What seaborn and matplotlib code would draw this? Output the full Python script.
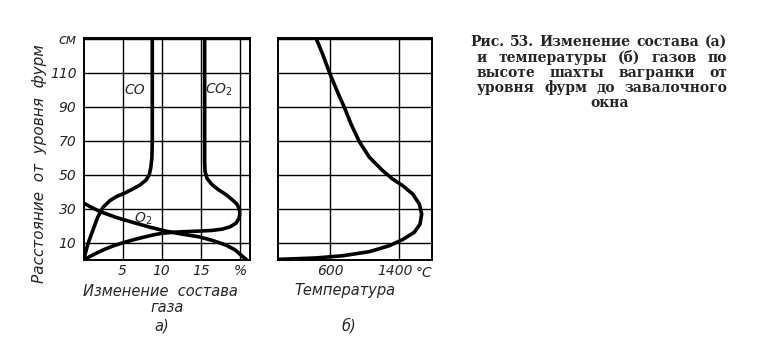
import matplotlib
matplotlib.use("Agg")
import matplotlib.pyplot as plt
import matplotlib.transforms as mtransforms
import seaborn as sns
import pandas as pd

# ---- data ----
co_x = [0, 0.3, 0.6, 1.0, 1.4, 1.8, 2.5, 3.4, 4.3, 5.1, 6.2, 7.2, 8.0, 8.4, 8.6, 8.75, 8.8, 8.8]
co_y = [0, 5, 10, 15, 20, 25, 31, 35, 37.5, 39, 41.5, 44, 47, 50, 54, 60, 70, 130.5]

co2_x = [0, 1.2, 2.5, 3.8, 5.1, 6.4, 7.6, 8.8, 10.0, 11.5, 13.1, 14.8, 16.5, 17.8, 18.8, 19.5, 19.9, 20.0, 19.9, 19.6,
         19.0, 18.2, 17.2, 16.4, 15.8, 15.55, 15.5, 15.5]
co2_y = [0, 3.0, 5.9, 8.3, 10.2, 11.9, 13.3, 14.6, 15.7, 16.3, 16.7, 17.0, 17.4, 18.2, 19.6, 21.6, 24.5, 27.5, 30.5, 33,
         35.5, 38.5, 41.5, 44.5, 48, 52, 58, 130.5]

o2_x = [0, 1.0, 2.1, 4.2, 6.4, 8.5, 10.5, 12.5, 14.8, 16.5, 18.2, 19.3, 19.9, 20.5, 20.9]
o2_y = [33.5, 31, 28.5, 25, 22, 19.3, 17.0, 15.3, 13.6, 11.5, 8.8, 6.2, 3.9, 1.5, 0]

temp_x = [438, 515, 600, 688, 765, 842, 938, 1054, 1208, 1323, 1438, 1554, 1631, 1658, 1638, 1573,
          1438, 1285, 1054, 746, 438, 131, 0]
temp_y = [130.5, 121, 109.4, 98.6, 89.8, 80, 69.6, 60.4, 52.5, 47.6, 43.7, 38.8, 32.9, 27, 21, 16.3,
          12, 8.4, 4.9, 2.5, 1.2, 0.6, 0.4]

y_ticks = [10, 30, 50, 70, 90, 110, 130]
y_labels = ["10", "30", "50", "70", "90", "110", "см"]
x1_ticks = [5, 10, 15, 20]
x1_labels = ["5", "10", "15", "%"]
x2_ticks = [600, 1400]
x2_labels = ["600", "1400"]

caption_lines = [
    "Рис. 53. Изменение состава (а)",
    "и температуры (б) газов по",
    "высоте шахты вагранки от",
    "уровня фурм до завалочного",
]
caption_last = "окна"

# ---- figure ----
sns.set_style("white")
plt.rcParams["font.family"] = ["DejaVu Sans"]
W, H = 769, 343
fig = plt.figure(figsize=(W / 100, H / 100), dpi=100)

def fx(px):
    return px / W

def fy(py):
    return 1 - py / H

ax1 = fig.add_axes([fx(83.5), fy(260), fx(250 - 83.5), (260 - 38) / H])
ax2 = fig.add_axes([fx(278), fy(260), fx(432 - 278), (260 - 38) / H])

lw_curve = 2.6
tick_font = dict(fontsize=10, fontstyle="italic")

df_co = pd.DataFrame({"x": co_x, "y": co_y})
df_co2 = pd.DataFrame({"x": co2_x, "y": co2_y})
df_o2 = pd.DataFrame({"x": o2_x, "y": o2_y})
df_t = pd.DataFrame({"x": temp_x, "y": temp_y})

for d in (df_co, df_co2, df_o2):
    sns.lineplot(data=d, x="x", y="y", sort=False, estimator=None, color="black",
                 linewidth=lw_curve, ax=ax1, zorder=3)
sns.lineplot(data=df_t, x="x", y="y", sort=False, estimator=None, color="black",
             linewidth=lw_curve, ax=ax2, zorder=3)

ax1.set_xlim(0, 21.3)
ax2.set_xlim(0, 1777)
for ax in (ax1, ax2):
    ax.set_ylim(0, 130.5)
    ax.set_xlabel("")
    ax.set_ylabel("")
    for s in ax.spines.values():
        s.set_linewidth(1.4)
        s.set_color("black")
    ax.grid(True, color="black", linewidth=1.0)
    ax.tick_params(axis="y", length=0, pad=5)
    ax.tick_params(axis="x", length=0, pad=3)

ax1.set_yticks(y_ticks)
ax1.set_yticklabels(y_labels, **tick_font)
ax1.set_xticks(x1_ticks)
ax1.set_xticklabels(x1_labels, **tick_font)

ax2.set_yticks(y_ticks)
ax2.set_yticklabels([])
ax2.set_xticks(x2_ticks)
ax2.set_xticklabels(x2_labels, **tick_font)
for lab in ax2.get_xticklabels():
    if lab.get_text() == "1400":
        lab.set_horizontalalignment("right")
        lab.set_transform(lab.get_transform() + mtransforms.ScaledTranslation(14 / 100, 0, fig.dpi_scale_trans))

# curve labels
ax1.text(6.6, 100, "CO", fontsize=10, fontstyle="italic", ha="center", va="center")
ax1.text(17.3, 100, "CO$_2$", fontsize=10, fontstyle="italic", ha="center", va="center")
ax1.text(7.6, 24, "O$_2$", fontsize=10, fontstyle="italic", ha="center", va="center")

# axis titles
fig.text(fx(40), fy(164), "Расстояние  от  уровня  фурм", rotation=90, ha="center", va="center",
         fontsize=11, fontstyle="italic")
fig.text(fx(160), fy(291), "Изменение  состава", ha="center", va="center", fontsize=10.5, fontstyle="italic")
fig.text(fx(167), fy(308), "газа", ha="center", va="center", fontsize=10.5, fontstyle="italic")
fig.text(fx(162), fy(326), "а)", ha="center", va="center", fontsize=10.5, fontstyle="italic")
fig.text(fx(424), fy(273), "°C", ha="center", va="center", fontsize=10, fontstyle="italic")
fig.text(fx(345), fy(291), "Температура", ha="center", va="center", fontsize=10.5, fontstyle="italic")
fig.text(fx(349), fy(326), "б)", ha="center", va="center", fontsize=10.5, fontstyle="italic")

# caption, justified
cap_font = dict(fontsize=10, fontweight="bold", family=["DejaVu Serif"])
renderer = fig.canvas.get_renderer()
line_y = [42, 58, 73, 88]
lefts = [470, 477, 477, 477]
right = 727
for line, yy, left in zip(caption_lines, line_y, lefts):
    words = line.split()
    widths = []
    for w in words:
        t = fig.text(0, 0, w, **cap_font)
        widths.append(t.get_window_extent(renderer).width)
        t.remove()
    gap = (right - left - sum(widths)) / (len(words) - 1)
    xpos = left
    for w, wd in zip(words, widths):
        fig.text(fx(xpos), fy(yy), w, ha="left", va="center", **cap_font)
        xpos += wd + gap
fig.text(fx(610), fy(103), caption_last, ha="center", va="center", **cap_font)

fig.savefig("out.png", dpi=100)
